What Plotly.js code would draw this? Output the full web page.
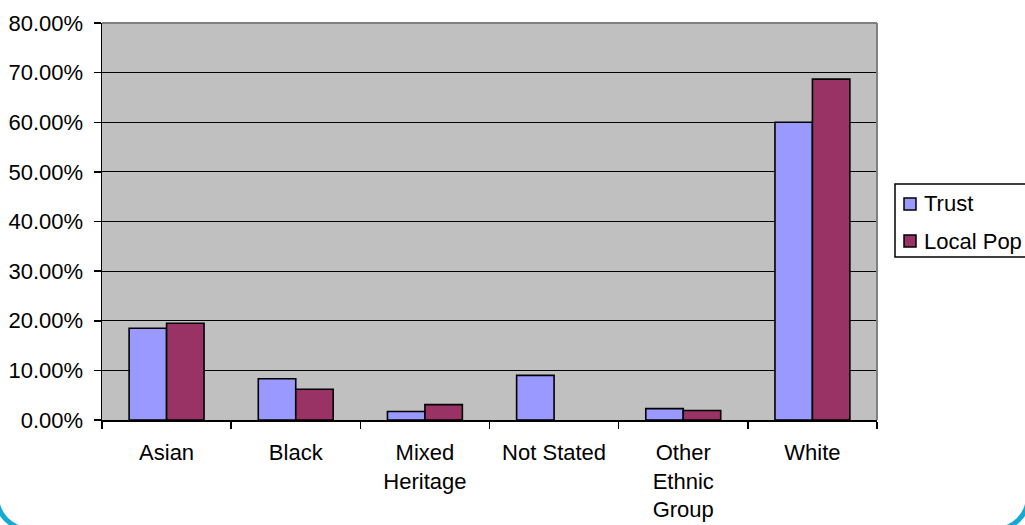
<!DOCTYPE html>
<html>
<head>
<meta charset="utf-8">
<script src="https://cdn.plot.ly/plotly-3.0.1.min.js"></script>
<style>
  html, body { margin: 0; padding: 0; width: 1025px; height: 525px; overflow: hidden; background: #ffffff; }
  #chart { position: absolute; left: 0; top: 0; width: 1025px; height: 525px; }
  #frame {
    position: absolute; left: -6px; top: -50px; width: 1037px; height: 582px;
    box-sizing: border-box; border: 5px solid #14aad4; border-radius: 36px;
    pointer-events: none;
  }
</style>
</head>
<body>
<div id="chart"></div>
<div id="frame"></div>
<script>
// Ethnic group share: Trust workforce vs local population
const categories = ["Asian", "Black", "Mixed<br>Heritage", "Not Stated", "Other<br>Ethnic<br>Group", "White"];
const seriesNames = ["Trust", "Local Pop"];
const seriesColors = ["#9999ff", "#993366"];
const trustShare = [0.185, 0.083, 0.017, 0.090, 0.023, 0.600];
const localShare = [0.195, 0.062, 0.031, null, 0.019, 0.687];
const yTicks = [0, 0.1, 0.2, 0.3, 0.4, 0.5, 0.6, 0.7, 0.8];

const W = 1025, H = 525;
const M = { l: 102, r: 148, t: 23, b: 105 };
const font = { family: "Liberation Sans, Arial, sans-serif", size: 22, color: "#000000" };

// pixel -> paper coordinate helpers for the hand-built legend
const px = v => (v - M.l) / (W - M.l - M.r);
const py = v => (H - M.b - v) / (H - M.t - M.b);

const traces = [trustShare, localShare].map((vals, i) => ({
  type: "bar", name: seriesNames[i], x: categories, y: vals,
  marker: { color: seriesColors[i], line: { color: "#000000", width: 1.6 } },
  hoverinfo: "x+y"
}));

// legend: framed box with a swatch and label per series
const legendShapes = [
  { type: "rect", xref: "paper", yref: "paper",
    x0: px(895), x1: px(1040), y0: py(257), y1: py(184),
    fillcolor: "#ffffff", line: { color: "#000000", width: 1.5 }, layer: "above" }
];
const legendLabels = [];
seriesNames.forEach((name, i) => {
  const cy = 204 + i * 37;
  legendShapes.push({
    type: "rect", xref: "paper", yref: "paper",
    x0: px(904), x1: px(916), y0: py(cy + 6), y1: py(cy - 6),
    fillcolor: seriesColors[i], line: { color: "#000000", width: 1.5 }, layer: "above"
  });
  legendLabels.push({
    xref: "paper", yref: "paper", x: px(922), y: py(cy),
    xanchor: "left", yanchor: "middle", showarrow: false,
    text: name, font: font
  });
});

const layout = {
  width: W, height: H,
  margin: { l: M.l, r: M.r, t: M.t, b: M.b, autoexpand: false },
  paper_bgcolor: "#ffffff",
  plot_bgcolor: "#c0c0c0",
  font: font,
  barmode: "group",
  bargap: 0.42,
  bargroupgap: 0,
  showlegend: false,
  xaxis: {
    type: "category",
    tickson: "boundaries", ticks: "outside", ticklen: 7, tickwidth: 1.5, tickcolor: "#000000",
    showline: true, linecolor: "#000000", linewidth: 1.5,
    showgrid: false, tickfont: font, ticklabelstandoff: 12,
    fixedrange: true
  },
  yaxis: {
    range: [0, 0.8], tickvals: yTicks, tickformat: ".2%",
    ticks: "outside", ticklen: 7, tickwidth: 1.5, tickcolor: "#000000",
    showline: true, linecolor: "#000000", linewidth: 1.5,
    showgrid: true, gridcolor: "#000000", gridwidth: 1.2,
    zeroline: false, tickfont: font, ticklabelstandoff: 6,
    fixedrange: true
  },
  shapes: [
    // grey plot-area border along the top and right
    { type: "line", xref: "paper", yref: "paper", x0: 0, x1: 1, y0: 1, y1: 1,
      line: { color: "#808080", width: 2 }, layer: "above" },
    { type: "line", xref: "paper", yref: "paper", x0: 1, x1: 1, y0: 0, y1: 1,
      line: { color: "#808080", width: 2 }, layer: "above" }
  ].concat(legendShapes),
  annotations: legendLabels
};

Plotly.newPlot("chart", traces, layout, { displayModeBar: false, staticPlot: true });
</script>
</body>
</html>
